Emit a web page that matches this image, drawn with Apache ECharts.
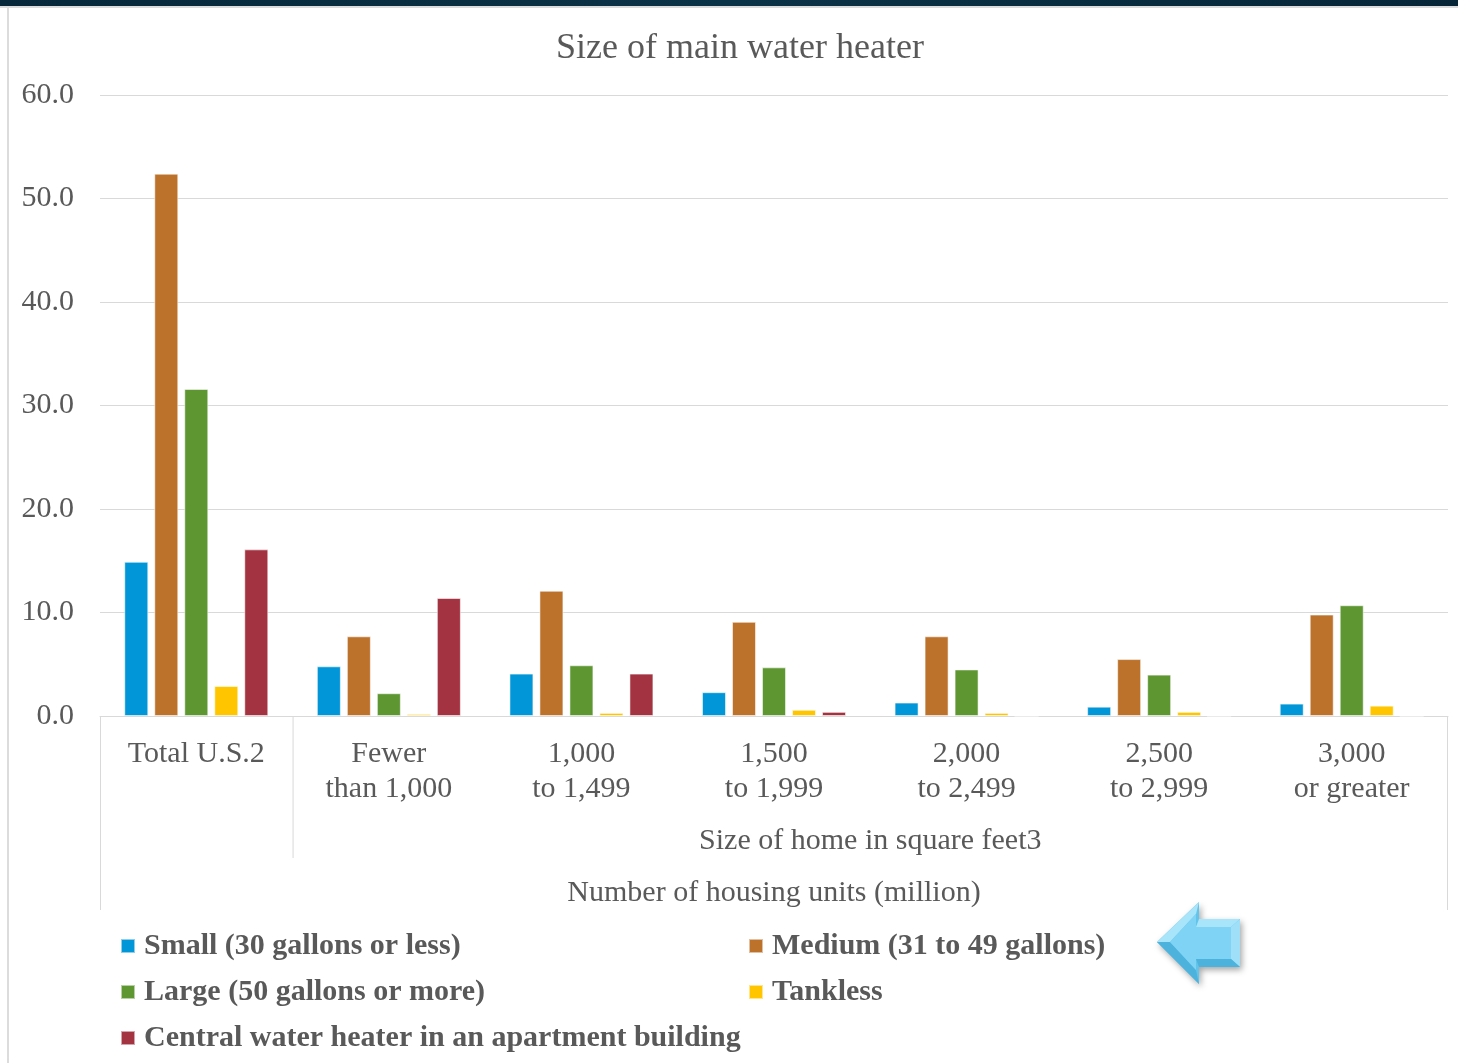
<!DOCTYPE html>
<html>
<head>
<meta charset="utf-8">
<script src="https://cdn.jsdelivr.net/npm/echarts@6/dist/echarts.min.js"></script>
<style>
html,body{margin:0;padding:0;background:#fff;}
#c{width:1458px;height:1063px;}
</style>
</head>
<body>
<div id="c"></div>
<script>
const chartTitle = 'Size of main water heater';
const categories = ['Total U.S.2', 'Fewer\nthan 1,000', '1,000\nto 1,499', '1,500\nto 1,999', '2,000\nto 2,499', '2,500\nto 2,999', '3,000\nor greater'];
const groupLabel = 'Size of home in square feet3';
const axisTitle = 'Number of housing units (million)';
const yTicks = { min: 0, max: 60, interval: 10 };

const seriesNames = ['Small (30 gallons or less)', 'Medium (31 to 49 gallons)', 'Large (50 gallons or more)', 'Tankless', 'Central water heater in an apartment building'];
const small    = [14.9, 4.8, 4.1, 2.3, 1.3, 0.9, 1.2];
const medium   = [52.4, 7.7, 12.1, 9.1, 7.7, 5.5, 9.8];
const large    = [31.6, 2.2, 4.9, 4.7, 4.5, 4.0, 10.7];
const tankless = [2.9, 0.2, 0.3, 0.6, 0.3, 0.4, 1.0];
const central  = [16.1, 11.4, 4.1, 0.4, 0, 0, 0];
const seriesColors = ['#0096D8', '#BC722A', '#5E9732', '#FFC600', '#A33340'];

const FONT = '"Liberation Serif", "Times New Roman", serif';
const TXT = '#595959';
const LINE = '#d9d9d9';

const chart = echarts.init(document.getElementById('c'), null, { renderer: 'canvas' });
const values = [small, medium, large, tankless, central];

const option = {
  animation: false,
  backgroundColor: '#fff',
  grid: { left: 100, right: 10, top: 95, bottom: 347, containLabel: false },
  legend: {
    left: 120, top: 923, width: 1300, padding: 0,
    orient: 'horizontal', itemGap: 0,
    itemWidth: 14, itemHeight: 14, icon: 'rect',
    textStyle: { fontFamily: FONT, fontSize: 30, fontWeight: 'bold', color: TXT, width: 604, lineHeight: 46, padding: [0, 0, 0, 4] },
    data: seriesNames
  },
  xAxis: {
    type: 'category', data: categories,
    axisLine: { show: true, lineStyle: { color: LINE, width: 1 } },
    axisTick: { show: false },
    axisLabel: { fontFamily: FONT, fontSize: 30, color: TXT, lineHeight: 35, margin: 21, interval: 0, verticalAlign: 'top' },
    splitLine: { show: false }
  },
  yAxis: {
    type: 'value', min: yTicks.min, max: yTicks.max, interval: yTicks.interval,
    axisLine: { show: false }, axisTick: { show: false },
    axisLabel: { fontFamily: FONT, fontSize: 30, color: TXT, margin: 26, padding: [4, 0, 0, 0], formatter: v => v.toFixed(1) },
    splitLine: { lineStyle: { color: LINE, width: 1 } }
  },
  series: seriesNames.map((n, i) => ({
    name: n, type: 'bar', data: values[i],
    barWidth: 24, barGap: '25%',
    itemStyle: { color: seriesColors[i], borderColor: 'rgba(255,255,255,0.55)', borderWidth: 1 }
  }))
};
chart.setOption(option);

function place() {
  const c0 = chart.convertToPixel({ xAxisIndex: 0 }, 0);
  const c1 = chart.convertToPixel({ xAxisIndex: 0 }, 1);
  const bw = c1 - c0;
  const x0 = c0 - bw / 2;
  const xEnd = x0 + bw * categories.length;
  const yBase = chart.convertToPixel({ yAxisIndex: 0 }, 0);
  const sep = x0 + bw;
  const g = [
    { type: 'rect', shape: { x: 0, y: 0, width: 1458, height: 6 }, style: { fill: new echarts.graphic.LinearGradient(0, 0, 1, 0, [{ offset: 0, color: '#06283a' }, { offset: 0.5, color: '#0b3347' }, { offset: 1, color: '#062638' }]) }, z: 10 },
    { type: 'rect', shape: { x: 0, y: 6, width: 1458, height: 2 }, style: { fill: '#dcdcdc' }, z: 10 },
    { type: 'rect', shape: { x: 7, y: 7, width: 2, height: 1056 }, style: { fill: '#dcdcdc' }, z: 10 },
    { type: 'text', x: 740, y: 49, style: { text: chartTitle, font: '36px ' + FONT, fill: TXT, align: 'center', verticalAlign: 'middle' } },
    { type: 'line', shape: { x1: x0 + 0.5, y1: yBase, x2: x0 + 0.5, y2: yBase + 194 }, style: { stroke: LINE, lineWidth: 1 } },
    { type: 'line', shape: { x1: sep + 0.5, y1: yBase, x2: sep + 0.5, y2: yBase + 142 }, style: { stroke: LINE, lineWidth: 1 } },
    { type: 'line', shape: { x1: xEnd - 0.5, y1: yBase, x2: xEnd - 0.5, y2: yBase + 194 }, style: { stroke: LINE, lineWidth: 1 } },
    { type: 'text', x: (sep + xEnd) / 2, y: yBase + 125, style: { text: groupLabel, font: '30px ' + FONT, fill: TXT, align: 'center', verticalAlign: 'middle' } },
    { type: 'text', x: (x0 + xEnd) / 2, y: yBase + 177, style: { text: axisTitle, font: '30px ' + FONT, fill: TXT, align: 'center', verticalAlign: 'middle' } },
    // decorative arrow
    { type: 'polygon', shape: { points: [[1157, 942], [1199, 902], [1199, 919], [1240, 919], [1240, 967], [1199, 967], [1199, 984]] },
      style: { fill: '#62c4ea', shadowBlur: 6, shadowOffsetX: 2, shadowOffsetY: 3, shadowColor: 'rgba(0,0,0,0.35)' }, z: 5 },
    { type: 'polygon', shape: { points: [[1157, 942], [1199, 902], [1196, 914], [1170, 942]] }, style: { fill: '#a8e4fa' }, z: 6 },
    { type: 'polygon', shape: { points: [[1199, 919], [1240, 919], [1231, 927], [1196, 927]] }, style: { fill: '#a8e4fa' }, z: 6 },
    { type: 'polygon', shape: { points: [[1240, 919], [1240, 967], [1231, 959], [1231, 927]] }, style: { fill: '#9fe0f8' }, z: 6 },
    { type: 'polygon', shape: { points: [[1157, 942], [1170, 942], [1196, 970], [1199, 984]] }, style: { fill: '#4db3dc' }, z: 6 },
    { type: 'polygon', shape: { points: [[1196, 959], [1231, 959], [1240, 967], [1199, 967]] }, style: { fill: '#4db3dc' }, z: 6 },
    { type: 'polygon', shape: { points: [[1170, 942], [1196, 914], [1196, 927], [1231, 927], [1231, 959], [1196, 959], [1196, 970]] }, style: { fill: '#7fd4f6' }, z: 7 }
  ];
  chart.setOption({ graphic: g });
}
place();
</script>
</body>
</html>
